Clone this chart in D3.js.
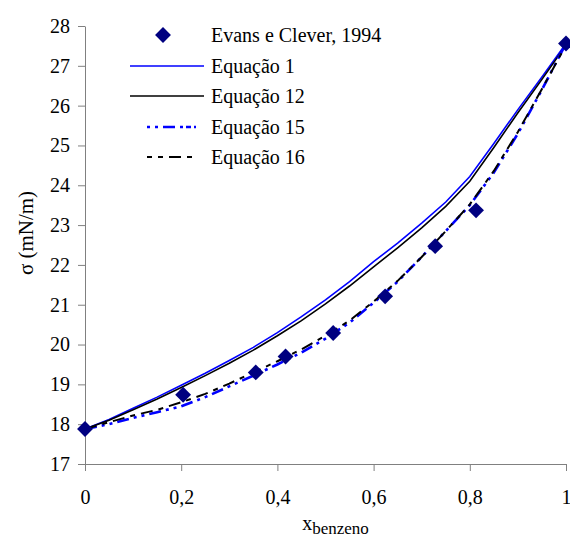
<!DOCTYPE html>
<html>
<head>
<meta charset="utf-8">
<script src="https://cdn.jsdelivr.net/npm/d3@7"></script>
<style>
  body { margin: 0; background: #fff; }
  .axis path, .axis line { stroke: #808080; }
</style>
</head>
<body>
<svg id="chart" width="570" height="539"></svg>
<script>
// DATA: values
const xGrid = [0, 0.05, 0.1, 0.15, 0.2, 0.25, 0.3, 0.35, 0.4, 0.45, 0.5,
               0.55, 0.6, 0.65, 0.7, 0.75, 0.8, 0.85, 0.9, 0.95, 1];

const eq1  = [17.88, 18.12, 18.40, 18.68, 18.98, 19.28, 19.60, 19.93, 20.30, 20.70, 21.12,
              21.58, 22.08, 22.55, 23.05, 23.58, 24.22, 25.05, 25.90, 26.72, 27.56];
const eq12 = [17.88, 18.10, 18.36, 18.63, 18.92, 19.22, 19.53, 19.86, 20.22, 20.60, 21.02,
              21.47, 21.95, 22.43, 22.93, 23.47, 24.10, 24.95, 25.82, 26.66, 27.52];
const eq15 = [17.88, 18.00, 18.16, 18.30, 18.45, 18.68, 18.95, 19.22, 19.50, 19.80, 20.15,
              20.55, 21.05, 21.58, 22.20, 22.85, 23.50, 24.32, 25.30, 26.40, 27.56];
const eq16 = [17.88, 18.05, 18.22, 18.36, 18.55, 18.76, 19.02, 19.30, 19.58, 19.88, 20.22,
              20.60, 21.08, 21.60, 22.20, 22.85, 23.52, 24.36, 25.34, 26.42, 27.52];

// Evans e Clever, 1994 (experimental)
const expX = [0, 0.204, 0.355, 0.417, 0.516, 0.624, 0.728, 0.813, 1];
const expY = [17.88, 18.74, 19.30, 19.70, 20.29, 21.21, 22.47, 23.37, 27.56];

const xTicks = [0, 0.2, 0.4, 0.6, 0.8, 1];
const xTickLabels = ["0", "0,2", "0,4", "0,6", "0,8", "1"];
const yTicks = [17, 18, 19, 20, 21, 22, 23, 24, 25, 26, 27, 28];

const seriesNames = ["Equação 1", "Equação 12", "Equação 15", "Equação 16"];

const FONT = "Liberation Serif";

// SETUP
const margin = { top: 26, right: 4, bottom: 75, left: 85 },
      width = 570 - margin.left - margin.right,
      height = 539 - margin.top - margin.bottom;

const svg = d3.select("#chart")
    .append("g")
    .attr("transform", `translate(${margin.left},${margin.top})`);

// SCALES
const x = d3.scaleLinear().domain([0, 1]).range([0, width]);
const y = d3.scaleLinear().domain([17, 28]).range([height, 0]);

// AXES
svg.append("g")
    .attr("class", "axis")
    .attr("transform", `translate(0,${height})`)
    .call(d3.axisBottom(x)
        .tickValues(xTicks)
        .tickSize(7)
        .tickSizeOuter(0)
        .tickFormat((d, i) => xTickLabels[i]))
    .call(g => g.selectAll("text").attr("dy", "1.5em"));

svg.append("g")
    .attr("class", "axis")
    .call(d3.axisLeft(y)
        .tickValues(yTicks)
        .tickSize(7)
        .tickSizeOuter(0)
        .tickFormat(d3.format("d")))
    .call(g => g.selectAll("text").attr("x", -15));

svg.selectAll(".axis text").attr("font-size", 20);

// LINES
const lineStyles = [
    { data: eq1,  color: "#0000ff", w: 1.6, dash: null },
    { data: eq12, color: "#000000", w: 1.6, dash: null },
    { data: eq15, color: "#0000ff", w: 2.6, dash: "12,5,3,5,3,5" },
    { data: eq16, color: "#000000", w: 2,   dash: "12,6,5,6" }
];

const line = d3.line()
    .x((d, i) => x(xGrid[i]))
    .y(d => y(d));

lineStyles.forEach(s => {
    svg.append("path")
        .datum(s.data)
        .attr("d", line)
        .attr("fill", "none")
        .attr("stroke", s.color)
        .attr("stroke-width", s.w)
        .attr("stroke-dasharray", s.dash);
});

// POINTS (diamonds)
const diamond = d3.symbol().type(d3.symbolDiamond2).size(160);
svg.selectAll(".pt")
    .data(expX)
    .enter()
    .append("path")
    .attr("class", "pt")
    .attr("transform", (d, i) => `translate(${x(d)},${y(expY[i])})`)
    .attr("d", diamond)
    .attr("fill", "#000080");

// LABELS
svg.append("text")
    .attr("transform", "rotate(-90)")
    .attr("x", -height / 2 + 12)
    .attr("y", -margin.left + 33)
    .attr("text-anchor", "middle")
    .attr("font-size", 21)
    .text("σ (mN/m)");

const xl = svg.append("text")
    .attr("x", width / 2 + 10)
    .attr("y", height + 66)
    .attr("text-anchor", "middle")
    .attr("font-size", 20);
xl.append("tspan").text("x");
xl.append("tspan").attr("dy", 4).attr("font-size", 17).text("benzeno");

// LEGEND
const legend = d3.select("#chart").append("g");
legend.append("path")
    .attr("transform", "translate(163,35)")
    .attr("d", diamond)
    .attr("fill", "#000080");
legend.append("text")
    .attr("x", 211).attr("y", 35).attr("dy", "0.35em")
    .attr("font-size", 20)
    .text("Evans e Clever, 1994");

const rowY = [66, 96, 127, 157];
lineStyles.forEach((s, i) => {
    const x0 = s.dash ? 147 : 130, x1 = s.dash ? 196 : 204;
    legend.append("line")
        .attr("x1", x0).attr("x2", x1)
        .attr("y1", rowY[i]).attr("y2", rowY[i])
        .attr("stroke", s.color)
        .attr("stroke-width", s.w)
        .attr("stroke-dasharray", s.dash ? (i === 2 ? "3,5,3,5,12,5,3" : "5,6,5,6,12,6,5") : null);
    legend.append("text")
        .attr("x", 211).attr("y", rowY[i]).attr("dy", "0.35em")
        .attr("font-size", 20)
        .text(seriesNames[i]);
});

// every text in serif, set directly on the element
d3.selectAll("#chart text").attr("font-family", FONT);
</script>
</body>
</html>
